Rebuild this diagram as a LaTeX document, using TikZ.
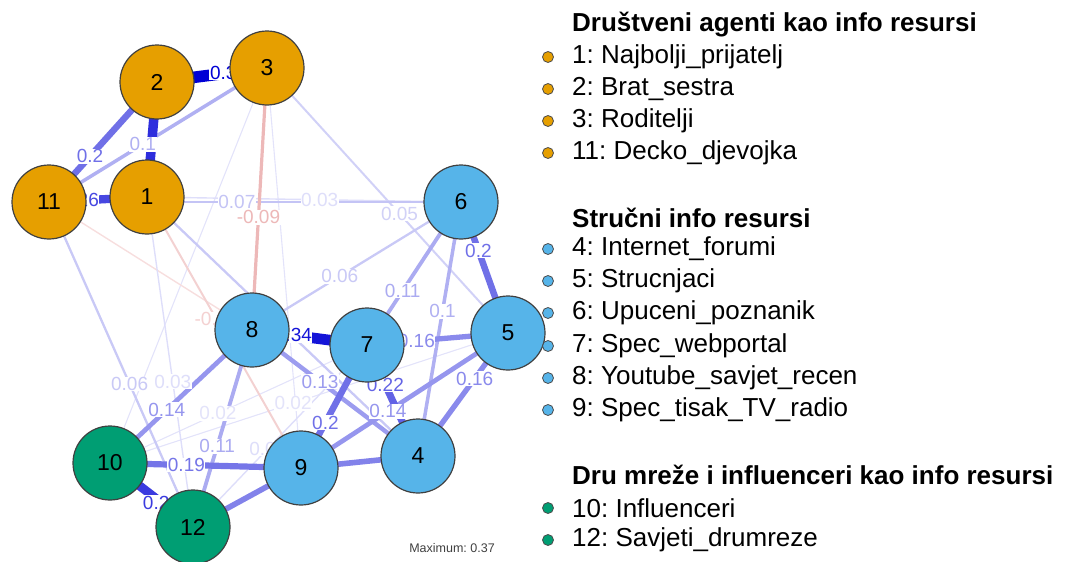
\documentclass[tikz,border=0pt]{standalone}
\usepackage{fontspec}
\setmainfont{Liberation Sans}
\frenchspacing

\pgfdeclarelayer{edges}
\pgfdeclarelayer{edgelabels}
\pgfsetlayers{edges,edgelabels,main}

\definecolor{agentorange}{HTML}{E69F00}
\definecolor{expertblue}{HTML}{56B4E9}
\definecolor{socialgreen}{HTML}{009E73}
\definecolor{posblue}{HTML}{0000D5}
\definecolor{negred}{HTML}{BF0000}

% colour, from, to, |weight|
\newcommand{\bareedge}[4]{%
  \pgfmathtruncatemacro{\edgeshade}{min(100,6+#4/0.37*94)}%
  \pgfmathsetmacro{\edgewidth}{0.5+#4*30}%
  \begin{pgfonlayer}{edges}
    \draw[line width=\edgewidth pt,draw=#1!\edgeshade!white] (#2.center) -- (#3.center);
  \end{pgfonlayer}}
% colour, from, to, |weight|, label, label position
\newcommand{\netedge}[6]{%
  \bareedge{#1}{#2}{#3}{#4}%
  \begin{pgfonlayer}{edgelabels}
    \path (#2.center) -- node[edgelabel,text=#1!\edgeshade!white,pos=#6] {#5} (#3.center);
  \end{pgfonlayer}}

\begin{document}
\begin{tikzpicture}[x=1pt,y=-1pt,
    resnode/.style={circle,draw=black!75,line width=1.2pt,minimum size=74pt,
      inner sep=0pt,font=\fontsize{23}{23}\selectfont},
    agent/.style={resnode,fill=agentorange},
    expert/.style={resnode,fill=expertblue},
    social/.style={resnode,fill=socialgreen},
    edgelabel/.style={fill=white,inner sep=0.6pt,font=\fontsize{19}{19}\selectfont},
    legdot/.style={circle,draw=black!70,line width=0.8pt,minimum size=11pt,inner sep=0pt},
    legtext/.style={anchor=west,inner sep=0pt,font=\fontsize{26}{26}\selectfont},
    leghead/.style={anchor=west,inner sep=0pt,font=\fontsize{26}{26}\selectfont\bfseries}]
  \useasboundingbox (0,0) rectangle (1072,562);

  \node[agent] (n1) at (147,197) {1};
  \node[agent] (n2) at (157,82) {2};
  \node[agent] (n3) at (267,68) {3};
  \node[expert] (n4) at (418,456) {4};
  \node[expert] (n5) at (508,333) {5};
  \node[expert] (n6) at (461,202) {6};
  \node[expert] (n7) at (367,345) {7};
  \node[expert] (n8) at (252,330) {8};
  \node[expert] (n9) at (301,468) {9};
  \node[social] (n10) at (110,463) {10};
  \node[agent] (n11) at (49,202) {11};
  \node[social] (n12) at (193,527) {12};

  % weakest first, so that strong edges and their labels lie on top
  \bareedge{posblue}{n3}{n10}{0.02}
  \bareedge{posblue}{n3}{n9}{0.02}
  \bareedge{negred}{n11}{n8}{0.03}
  \netedge{posblue}{n10}{n7}{0.02}{0.02}{0.42}
  \netedge{posblue}{n10}{n5}{0.02}{0.02}{0.46}
  \netedge{posblue}{n12}{n7}{0.03}{0.03}{0.43}
  \netedge{posblue}{n1}{n12}{0.03}{0.03}{0.56}
  \netedge{posblue}{n1}{n6}{0.03}{0.03}{0.55}
  \netedge{posblue}{n3}{n5}{0.05}{0.05}{0.55}
  \netedge{negred}{n1}{n9}{0.05}{-0.05}{0.45}
  \bareedge{posblue}{n1}{n4}{0.06}
  \netedge{posblue}{n11}{n12}{0.06}{0.06}{0.56}
  \netedge{posblue}{n6}{n8}{0.06}{0.06}{0.58}
  \netedge{posblue}{n11}{n6}{0.07}{0.07}{0.456}
  \netedge{negred}{n3}{n8}{0.09}{-0.09}{0.57}
  \netedge{posblue}{n11}{n3}{0.1}{0.1}{0.43}
  \netedge{posblue}{n6}{n4}{0.1}{0.1}{0.43}
  \netedge{posblue}{n6}{n7}{0.11}{0.11}{0.62}
  \netedge{posblue}{n8}{n12}{0.11}{0.11}{0.59}
  \netedge{posblue}{n8}{n4}{0.13}{0.13}{0.41}
  \netedge{posblue}{n10}{n8}{0.14}{0.14}{0.40}
  \netedge{posblue}{n9}{n5}{0.14}{0.14}{0.42}
  \netedge{posblue}{n5}{n4}{0.16}{0.16}{0.37}
  \netedge{posblue}{n7}{n5}{0.16}{0.16}{0.35}
  \bareedge{posblue}{n9}{n4}{0.17}
  \netedge{posblue}{n12}{n9}{0.17}{0.17}{0.86}
  \netedge{posblue}{n10}{n9}{0.19}{0.19}{0.40}
  \netedge{posblue}{n11}{n2}{0.2}{0.2}{0.38}
  \netedge{posblue}{n6}{n5}{0.2}{0.2}{0.37}
  \netedge{posblue}{n7}{n9}{0.2}{0.2}{0.63}
  \netedge{posblue}{n7}{n4}{0.22}{0.22}{0.36}
  \netedge{posblue}{n11}{n1}{0.26}{0.26}{0.32}
  \netedge{posblue}{n10}{n12}{0.28}{0.28}{0.62}
  \bareedge{posblue}{n1}{n2}{0.3}
  \netedge{posblue}{n8}{n7}{0.34}{0.34}{0.36}
  \netedge{posblue}{n2}{n3}{0.37}{0.37}{0.65}

  \node[font=\fontsize{12.5}{12.5}\selectfont,text=black!75] (maxnote) at (452,548) {Maximum: 0.37};

  \node[leghead] (head1) at (572,25) {Društveni agenti kao info resursi};
  \node[legdot,fill=agentorange] (dot1) at (548,57) {};
  \node[legtext] (item1) at (572,57) {1: Najbolji\_prijatelj};
  \node[legdot,fill=agentorange] (dot2) at (548,89) {};
  \node[legtext] (item2) at (572,89) {2: Brat\_sestra};
  \node[legdot,fill=agentorange] (dot3) at (548,121) {};
  \node[legtext] (item3) at (572,121) {3: Roditelji};
  \node[legdot,fill=agentorange] (dot11) at (548,153) {};
  \node[legtext] (item11) at (572,153) {11: Decko\_djevojka};

  \node[leghead] (head2) at (572,218) {Stručni info resursi};
  \node[legdot,fill=expertblue] (dot4) at (548,249) {};
  \node[legtext] (item4) at (572,249) {4: Internet\_forumi};
  \node[legdot,fill=expertblue] (dot5) at (548,281) {};
  \node[legtext] (item5) at (572,281) {5: Strucnjaci};
  \node[legdot,fill=expertblue] (dot6) at (548,313) {};
  \node[legtext] (item6) at (572,313) {6: Upuceni\_poznanik};
  \node[legdot,fill=expertblue] (dot7) at (548,346) {};
  \node[legtext] (item7) at (572,346) {7: Spec\_webportal};
  \node[legdot,fill=expertblue] (dot8) at (548,378) {};
  \node[legtext] (item8) at (572,378) {8: Youtube\_savjet\_recen};
  \node[legdot,fill=expertblue] (dot9) at (548,410) {};
  \node[legtext] (item9) at (572,410) {9: Spec\_tisak\_TV\_radio};

  \node[leghead] (head3) at (572,475) {Dru mreže i influenceri kao info resursi};
  \node[legdot,fill=socialgreen] (dot10) at (548,508) {};
  \node[legtext] (item10) at (572,508) {10: Influenceri};
  \node[legdot,fill=socialgreen] (dot12) at (548,540) {};
  \node[legtext] (item12) at (572,540) {12: Savjeti\_drumreze};
\end{tikzpicture}
\end{document}
